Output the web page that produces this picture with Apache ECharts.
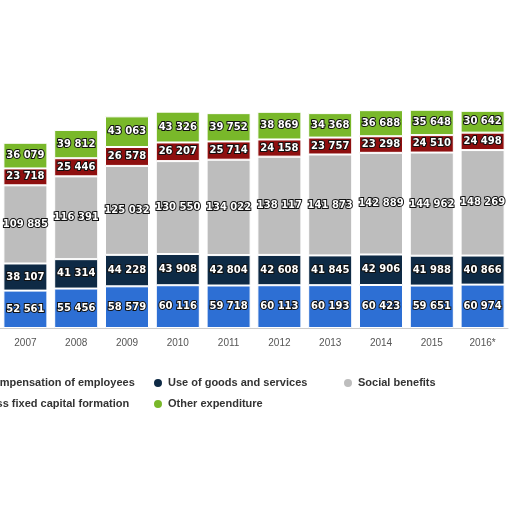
<!DOCTYPE html><html><head><meta charset="utf-8"><script src="https://cdn.jsdelivr.net/npm/echarts@6/dist/echarts.min.js"></script>
<style>body{margin:0;background:#fff}#c{width:512px;height:512px}</style></head><body><div id="c"></div><script>
const categories=['2007','2008','2009','2010','2011','2012','2013','2014','2015','2016*'];
const compensation=[52561,55456,58579,60116,59718,60113,60193,60423,59651,60974];
const goods=[38107,41314,44228,43908,42804,42608,41845,42906,41988,40866];
const social=[109885,116391,125032,130550,134022,138117,141873,142889,144962,148269];
const gfcf=[23718,25446,26578,26207,25714,24158,23757,23298,24510,24498];
const other=[36079,39812,43063,43326,39752,38869,34368,36688,35648,30642];
const names=['Compensation of employees','Use of goods and services','Social benefits','Gross fixed capital formation','Other expenditure'];
const colors=['#2d6fd4','#0e2a45','#bdbdbd','#8e0f0f','#79b82a'];
const fmt=v=>String(v.value).replace(/\B(?=(\d{3})+(?!\d))/g,' ');
const mk=(n,d,c)=>({name:n,type:'bar',stack:'s',data:d,barWidth:44,itemStyle:{color:c,borderColor:'#fff',borderWidth:1},
 label:{show:true,formatter:fmt,color:'#fff',fontWeight:'bold',fontSize:10,fontFamily:'DejaVu Sans',textBorderColor:'#111',textBorderWidth:2}});
const lg=(name,left,top)=>({left:left,top:top,icon:'circle',itemWidth:10,itemHeight:10,itemGap:0,
 textStyle:{fontSize:11,color:'#333',fontWeight:'bold'},data:[name]});
const chart=echarts.init(document.getElementById('c'));
chart.setOption({animation:false,
 grid:{left:-2,right:4,top:79,bottom:184},
 xAxis:{type:'category',data:categories,axisLine:{lineStyle:{color:'#ccc'}},axisTick:{show:false},axisLabel:{color:'#555',fontSize:10,margin:10}},
 yAxis:{type:'value',min:0,max:350000,show:false,splitLine:{show:false}},
 legend:[lg(names[0],-36,372),lg(names[1],147,372),lg(names[2],337,372),lg(names[3],-44,393),lg(names[4],147,393)],
 series:[mk(names[0],compensation,colors[0]),mk(names[1],goods,colors[1]),mk(names[2],social,colors[2]),mk(names[3],gfcf,colors[3]),mk(names[4],other,colors[4])]
});
</script></body></html>
